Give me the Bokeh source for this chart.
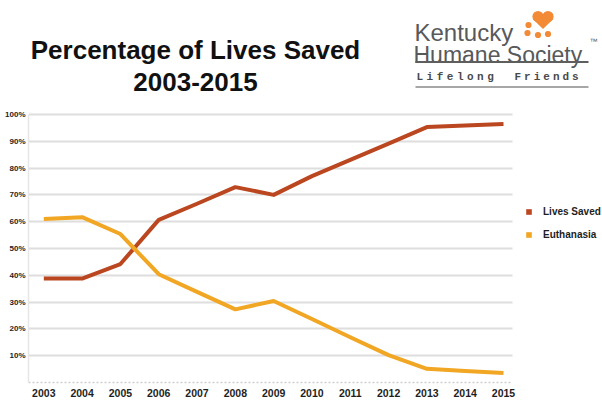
from bokeh.plotting import figure
from bokeh.models import Range1d, FixedTicker, Legend, LegendItem
from bokeh.core.properties import value
from bokeh.embed import file_html
from bokeh.resources import INLINE

# ---- data -------------------------------------------------------------
years = list(range(2003, 2016))
lives_saved = [38.8, 38.8, 44.2, 60.7, 66.7, 72.9, 70.0, 77.0, 83.1, 89.1, 95.3, 95.9, 96.5]
euthanasia = [61.0, 61.7, 55.4, 40.4, 33.8, 27.3, 30.4, 23.7, 16.9, 10.2, 5.1, 4.3, 3.5]
series_names = ["Lives Saved", "Euthanasia"]
y_ticks = [10, 20, 30, 40, 50, 60, 70, 80, 90, 100]
y_tick_labels = [f"{t}%" for t in y_ticks]
x_tick_labels = [str(y) for y in years]

title_lines = ["Percentage of Lives Saved", "2003-2015"]

# ---- styles -----------------------------------------------------------
RED = "#BA4720"
GOLD = "#F1A624"
PAW = "#F28A36"
LOGO_GRAY = "#58595B"
FONT = "Liberation Sans"

W, H = 602, 400
LEFT, BOTTOM = 28, 18            # axis panels
FRAME_BOTTOM_PX = H - BOTTOM     # canvas y of the 0% line
TOP_PX = 114                     # canvas y of the 100% line
CHART_RIGHT_PX = 512             # where grid and axis stop
FIRST_YEAR_PX = 43.3
LAST_YEAR_PX = 503.0
PX_PER_YEAR = (LAST_YEAR_PX - FIRST_YEAR_PX) / (years[-1] - years[0])

# data ranges chosen so the header sits above the 100% line inside one frame
x_start = years[0] - (FIRST_YEAR_PX - LEFT) / PX_PER_YEAR
x_end = years[0] + (W - FIRST_YEAR_PX) / PX_PER_YEAR
x_chart_end = years[0] + (CHART_RIGHT_PX - FIRST_YEAR_PX) / PX_PER_YEAR
y_top = 100 * FRAME_BOTTOM_PX / (FRAME_BOTTOM_PX - TOP_PX)

p = figure(width=W, height=H, x_range=Range1d(x_start, x_end), y_range=Range1d(0, y_top),
           output_backend="svg", toolbar_location=None,
           min_border_top=0, min_border_right=0, min_border_left=LEFT,
           min_border_bottom=BOTTOM)
p.outline_line_color = None
p.background_fill_color = "white"
p.border_fill_color = "white"

# pixel-like ranges for the header artwork
p.extra_x_ranges = {"cx": Range1d(LEFT, W)}
p.extra_y_ranges = {"cy": Range1d(FRAME_BOTTOM_PX, 0)}

# ---- grid and axes ----------------------------------------------------
p.xgrid.visible = False
p.ygrid.ticker = FixedTicker(ticks=y_ticks)
p.ygrid.grid_line_color = "#DEDEDE"
p.ygrid.grid_line_width = 2
p.ygrid.cross_bounds = (x_start, x_chart_end)

p.xaxis.ticker = FixedTicker(ticks=years)
p.xaxis.major_label_overrides = dict(zip(years, x_tick_labels))
p.xaxis.bounds = (x_start, x_chart_end)
p.yaxis.ticker = FixedTicker(ticks=y_ticks)
p.yaxis.major_label_overrides = dict(zip(y_ticks, y_tick_labels))
p.yaxis.bounds = (0, 100)
for ax in (p.xaxis, p.yaxis):
    ax.major_tick_line_color = None
    ax.minor_tick_line_color = None
    ax.major_tick_out = 0
    ax.major_tick_in = 0
    ax.minor_tick_out = 0
    ax.major_label_text_font = FONT
    ax.major_label_text_font_style = "bold"
    ax.major_label_text_color = "#1E1E1E"
p.xaxis.major_label_text_font_size = "10.5px"
p.yaxis.major_label_text_font_size = "8px"
p.xaxis.major_label_standoff = 6
p.yaxis.major_label_standoff = 3
p.xaxis.axis_line_color = "#CFCFCF"
p.xaxis.axis_line_dash = "2 2"
p.xaxis.axis_line_width = 1.5
p.yaxis.axis_line_color = "#E6E6E6"
p.yaxis.axis_line_width = 1.5

# ---- series -----------------------------------------------------------
p.line(years, lives_saved, line_color=RED, line_width=4, line_join="round")
p.line(years, euthanasia, line_color=GOLD, line_width=4, line_join="round")

# zero-area quads at the first points give the legend solid colour boxes
k_lives = p.quad(left=years[:1], right=years[:1], top=lives_saved[:1], bottom=lives_saved[:1],
                 fill_color=RED, line_color=None)
k_euth = p.quad(left=years[:1], right=years[:1], top=euthanasia[:1], bottom=euthanasia[:1],
                fill_color=GOLD, line_color=None)

legend = Legend(items=[LegendItem(label=series_names[0], renderers=[k_lives]),
                       LegendItem(label=series_names[1], renderers=[k_euth])],
                location=(525 - LEFT, 138), orientation="vertical",
                glyph_width=7, glyph_height=7, label_standoff=11,
                label_height=20, spacing=3, padding=0, margin=0,
                label_text_font=FONT, label_text_font_style="bold",
                label_text_font_size="10px", label_text_color="#1E1E1E",
                border_line_color=None, background_fill_alpha=0)
p.add_layout(legend)

# ---- header: title ----------------------------------------------------
hdr = dict(x_range_name="cx", y_range_name="cy")
p.text(x=[195, 195], y=[49.5, 81.5], text=title_lines,
       text_font=value(FONT), text_font_style="bold", text_font_size="26px",
       text_align="center", text_baseline="alphabetic", text_color="#111111", **hdr)

# ---- header: logo -----------------------------------------------------
p.text(x=[414], y=[32], text=["Kentucky"], text_font=value(FONT),
       text_font_size="24px", text_align="left", text_baseline="alphabetic",
       text_color=LOGO_GRAY, **hdr)
p.text(x=[413], y=[54], text=["Humane Society"], text_font=value(FONT),
       text_font_size="23px", text_align="left", text_baseline="alphabetic",
       text_color=LOGO_GRAY, **hdr)
p.text(x=[589], y=[41], text=["™"], text_font=value(FONT),
       text_font_size="8px", text_align="left", text_baseline="alphabetic",
       text_color=LOGO_GRAY, **hdr)

# paw print: heart-shaped pad plus four toes
p.circle(x=[537.5, 547.5], y=[16, 16], radius=5.6, fill_color=PAW, line_color=None, **hdr)
p.patch(x=[532.2, 552.8, 542.5], y=[18.5, 18.5, 28.5], fill_color=PAW, line_color=None, **hdr)
p.circle(x=[528, 527, 537.5, 547.5], y=[24.5, 32.5, 34.5, 33.5], radius=3.1,
         fill_color=PAW, line_color=None, **hdr)

# rules and tagline
p.segment(x0=[415], y0=[61.5], x1=[588], y1=[61.5], line_color="#5E5E5E", line_width=2, **hdr)
p.segment(x0=[415], y0=[86.5], x1=[588], y1=[86.5], line_color="#8A8A8A", line_width=1.6, **hdr)
word1 = "Lifelong"
word2 = "Friends"
tag_chars = list(word1) + list(word2)
tag_x = [416 + 10.1 * i for i in range(len(word1))] + [514 + 9.6 * i for i in range(len(word2))]
p.text(x=tag_x, y=[76] * len(tag_chars), text=tag_chars,
       text_font=value("Liberation Mono"), text_font_style="bold",
       text_font_size="11px", text_align="left", text_baseline="alphabetic",
       text_color="#4A4A4A", **hdr)

open("out.html", "w").write(file_html(p, INLINE))
